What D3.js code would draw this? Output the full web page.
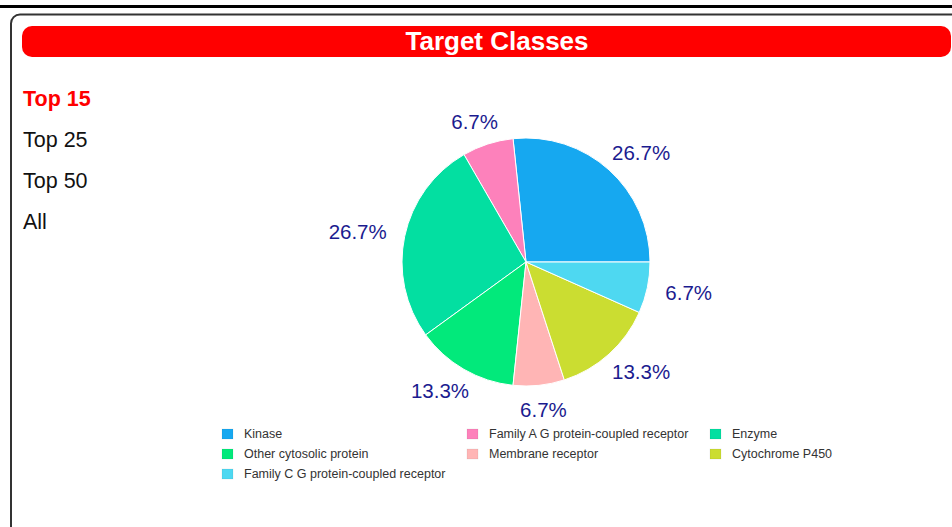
<!DOCTYPE html>
<html>
<head>
<meta charset="utf-8">
<script src="https://cdn.jsdelivr.net/npm/d3@7"></script>
<style>
  body { margin: 0; background: #fff; font-family: Arial, "Liberation Sans", sans-serif; }
</style>
</head>
<body>
<div id="chart"></div>
<script>
// data
const classes = ["Kinase", "Family A G protein-coupled receptor", "Enzyme", "Other cytosolic protein",
                 "Membrane receptor", "Cytochrome P450", "Family C G protein-coupled receptor"];
const counts = [4, 1, 4, 2, 1, 2, 1];
const sliceColors = ["#16a8f0", "#fd81bb", "#03dfa1", "#02e97b", "#ffb5b5", "#cbdd31", "#4ed8f1"];
const menuItems = ["Top 15", "Top 25", "Top 50", "All"];
const title = "Target Classes";

const W = 952, H = 527;
const cx = 526, cy = 262, radius = 124;

const svg = d3.select("#chart")
  .append("svg")
    .attr("width", W)
    .attr("height", H);

// frame
svg.append("line")
  .attr("x1", 0).attr("x2", W)
  .attr("y1", 6.5).attr("y2", 6.5)
  .attr("stroke", "#000")
  .attr("stroke-width", 3);

svg.append("rect")
  .attr("x", 11).attr("y", 14.5)
  .attr("width", 1000).attr("height", 600)
  .attr("rx", 9)
  .attr("fill", "none")
  .attr("stroke", "#333")
  .attr("stroke-width", 2);

// title bar
svg.append("rect")
  .attr("x", 22).attr("y", 26)
  .attr("width", 929).attr("height", 31)
  .attr("rx", 10)
  .attr("fill", "#ff0000");

svg.append("text")
  .attr("x", 497)
  .attr("y", 50)
  .attr("text-anchor", "middle")
  .attr("fill", "#fff")
  .style("font-size", "26px")
  .style("font-weight", "bold")
  .text(title);

// left menu
svg.selectAll(".menu")
  .data(menuItems)
  .join("text")
    .attr("class", "menu")
    .attr("x", 23)
    .attr("y", (d, i) => 105.5 + i * 41)
    .attr("fill", (d, i) => i === 0 ? "#ff0000" : "#111")
    .style("font-size", "21.5px")
    .style("font-weight", (d, i) => i === 0 ? "bold" : "normal")
    .text(d => d);

// pie
const data = classes.map((c, i) => ({ name: c, count: counts[i], color: sliceColors[i] }));
const total = d3.sum(counts);
const fmt = d3.format(".1%");

const pie = d3.pie()
  .sort(null)
  .value(d => d.count)
  .startAngle(Math.PI / 2)
  .endAngle(Math.PI / 2 - 2 * Math.PI);

const arc = d3.arc().innerRadius(0).outerRadius(radius);
const labelArc = d3.arc().innerRadius(143).outerRadius(143);

const g = svg.append("g")
  .attr("transform", `translate(${cx},${cy})`);

const arcs = pie(data);

g.selectAll("path")
  .data(arcs)
  .join("path")
    .attr("d", arc)
    .attr("fill", d => d.data.color)
    .attr("stroke", "#fff")
    .attr("stroke-width", 1);

// labels pushed outward by their own size
g.selectAll(".lbl")
  .data(arcs)
  .join("text")
    .attr("class", "lbl")
    .attr("text-anchor", "middle")
    .attr("dominant-baseline", "central")
    .attr("fill", "#1b1b8f")
    .style("font-size", "20.5px")
    .text(d => fmt(d.data.count / total))
    .each(function(d) {
      const w = this.getComputedTextLength();
      const h = 10;
      const mid = (d.startAngle + d.endAngle) / 2;
      const [px, py] = labelArc.centroid(d);
      d3.select(this)
        .attr("x", px + Math.sin(mid) * w / 2)
        .attr("y", py - Math.cos(mid) * h / 2);
    });

// legend
const legendCols = [222, 467, 710];
const legend = svg.selectAll(".leg")
  .data(data)
  .join("g")
    .attr("class", "leg")
    .attr("transform", (d, i) => `translate(${legendCols[i % 3]},${429 + Math.floor(i / 3) * 20})`);

legend.append("rect")
  .attr("width", 11)
  .attr("height", 10)
  .attr("fill", d => d.color)
  .attr("stroke", "rgba(0,0,0,0.12)")
  .attr("stroke-width", 0.5);

legend.append("text")
  .attr("x", 22)
  .attr("y", 9)
  .attr("fill", "#333")
  .style("font-size", "12.5px")
  .text(d => d.name);
</script>
</body>
</html>
